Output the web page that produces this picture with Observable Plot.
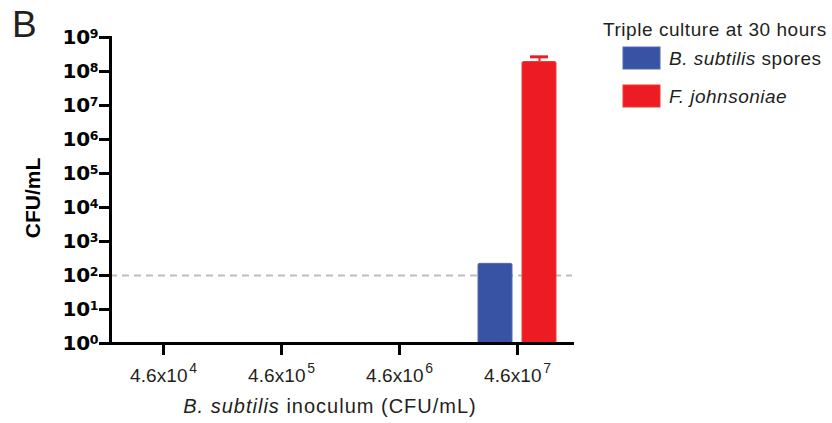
<!DOCTYPE html>
<html><head><meta charset="utf-8">
<script src="https://cdn.jsdelivr.net/npm/d3@7"></script>
<script src="https://cdn.jsdelivr.net/npm/@observablehq/plot@0.6"></script>
<style>
body{margin:0;background:#fff;}
#chart{position:relative;width:832px;height:423px;}
#chart svg text{font-family:"Liberation Sans",Arial,Helvetica,sans-serif;}
</style></head><body><div id="chart"></div>
<script>
// ---- data ----
const inocula = ["4.6x10^4", "4.6x10^5", "4.6x10^6", "4.6x10^7"];
const seriesNames = ["B. subtilis spores", "F. johnsoniae"];
const sporesCFU = [null, null, null, 220];
const flavoCFU = [null, null, null, 1.9e8];
const flavoErrUpper = [null, null, null, 2.7e8];
const yTickValues = [1, 1e1, 1e2, 1e3, 1e4, 1e5, 1e6, 1e7, 1e8, 1e9];
const yTickLabels = ["10^0", "10^1", "10^2", "10^3", "10^4", "10^5", "10^6", "10^7", "10^8", "10^9"];
const limitOfDetection = [100];
const seriesColors = ["#3953a4", "#ed1c24"];
const seriesStrokes = ["#5468b0", "#ef3b2f"];

const spores = inocula.map((inoc, i) => ({inoc, value: sporesCFU[i]})).filter(d => d.value != null);
const flavo = inocula.map((inoc, i) => ({inoc, value: flavoCFU[i], hi: flavoErrUpper[i]})).filter(d => d.value != null);

const plot = Plot.plot({
  width: 832, height: 423,
  marginLeft: 110, marginRight: 260, marginTop: 37, marginBottom: 80,
  style: {background: "transparent", overflow: "visible", color: "#000"},
  x: {type: "band", domain: inocula, range: [103, 577], padding: 0, axis: null},
  y: {type: "log", domain: [1, 1e9], axis: null},
  marks: [
    Plot.ruleY(limitOfDetection, {stroke: "#bdbdbd", strokeWidth: 2, strokeDasharray: "7,5"}),
    Plot.barY(spores, {x: "inoc", y1: 1, y2: "value", fill: seriesColors[0], stroke: seriesStrokes[0], strokeWidth: 1, insetLeft: 42, insetRight: 42, dx: -22, rx: 1.5}),
    Plot.ruleX(flavo, {x: "inoc", y1: "value", y2: "hi", dx: 22, stroke: seriesColors[1], strokeWidth: 2}),
    Plot.tickY(flavo, {x: "inoc", y: "hi", dx: 22, insetLeft: 50, insetRight: 50, stroke: seriesColors[1], strokeWidth: 3}),
    Plot.barY(flavo, {x: "inoc", y1: 1, y2: "value", fill: seriesColors[1], stroke: seriesStrokes[1], strokeWidth: 1, insetLeft: 42, insetRight: 42, dx: 22, rx: 1.5}),
    Plot.axisY({ticks: yTickValues, tickFormat: d => yTickLabels[yTickValues.indexOf(d)], tickSize: 11, tickPadding: 1, strokeWidth: 3, label: null}),
    Plot.axisX({tickSize: 12, tickPadding: 13, strokeWidth: 3, label: null}),
    Plot.frame({anchor: "left", strokeWidth: 3}),
    Plot.frame({anchor: "bottom", strokeWidth: 3})
  ]
});
document.getElementById("chart").appendChild(plot);

const svg = d3.select(plot);
const ink = "#231f20";

// superscripts on tick labels
function superscript(sel, supSize, supDy, supDx) {
  sel.each(function() {
    const t = d3.select(this);
    const s = t.text();
    const [base, exp] = s.split("^");
    t.text(base);
    t.append("tspan").style("font-size", supSize).style("letter-spacing", "0").attr("dy", supDy).attr("dx", supDx).text(exp);
  });
}
const yLab = svg.selectAll('g[aria-label="y-axis tick label"] text');
yLab.style("font-family", '"DejaVu Sans", sans-serif').style("font-size", "20px").style("font-weight", "bold").style("letter-spacing", "-0.3px").attr("fill", "#000");
superscript(yLab, "12.5px", "-6", "0");
const xLab = svg.selectAll('g[aria-label="x-axis tick label"] text');
xLab.style("font-size", "19px").style("letter-spacing", "0.1px").attr("fill", ink);
superscript(xLab, "14px", "-9", "1.5");

// panel letter
svg.append("text").attr("x", 12).attr("y", 37).attr("text-anchor", "start").style("font-size", "37px").attr("fill", ink).text("B");
// y title
svg.append("text").attr("transform", "translate(40,198) rotate(-90)").attr("text-anchor", "middle")
  .style("font-size", "21px").style("font-weight", "bold").attr("fill", "#000").text("CFU/mL");
// x title
const xt = svg.append("text").attr("x", 330).attr("y", 413).attr("text-anchor", "middle")
  .style("font-size", "20px").style("letter-spacing", "1px").attr("fill", ink);
xt.append("tspan").style("font-style", "italic").text("B. subtilis");
xt.append("tspan").text(" inoculum (CFU/mL)");

// legend
const lg = svg.append("g").attr("text-anchor", "start");
lg.append("text").attr("x", 603).attr("y", 36).style("font-size", "19px").style("letter-spacing", "0.55px").attr("fill", ink).text("Triple culture at 30 hours");
const rows = [
  {italic: "B. subtilis", rest: " spores", y: 47},
  {italic: "F. johnsoniae", rest: "", y: 85}
];
rows.forEach((r, i) => {
  lg.append("rect").attr("x", 623).attr("y", r.y).attr("width", 37).attr("height", 22)
    .attr("fill", seriesColors[i]).attr("stroke", seriesStrokes[i]).attr("stroke-width", 1);
  const t = lg.append("text").attr("x", 669).attr("y", r.y + 18).style("font-size", "19px").style("letter-spacing", "0.5px").attr("fill", ink);
  t.append("tspan").style("font-style", "italic").text(r.italic);
  if (r.rest) t.append("tspan").text(r.rest);
});
</script></body></html>
